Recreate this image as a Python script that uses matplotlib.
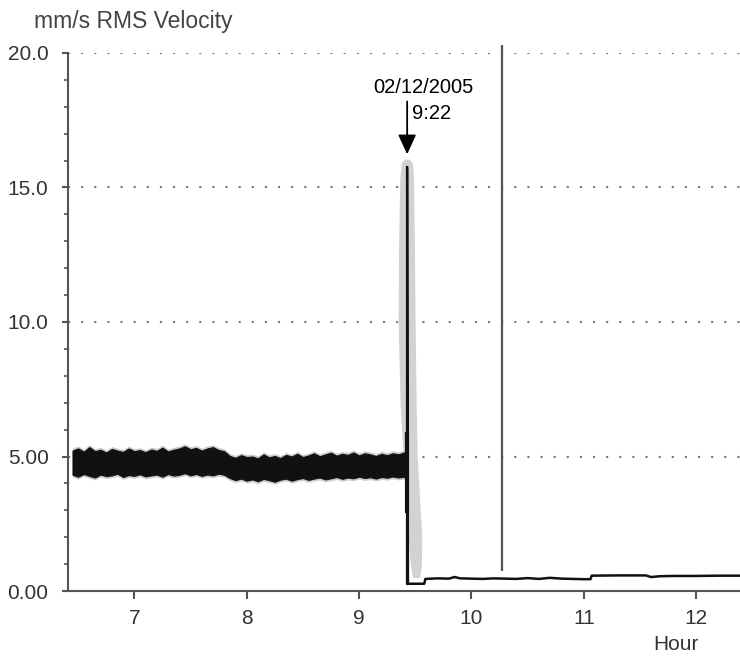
import numpy as np
import matplotlib.pyplot as plt

# vibration trend before / after the event
hours = [6.45, 6.50, 6.55, 6.60, 6.65, 6.70, 6.75, 6.80, 6.85, 6.90, 6.95, 7.00, 7.05, 7.10,
         7.15, 7.20, 7.25, 7.30, 7.35, 7.40, 7.45, 7.50, 7.55, 7.60, 7.65, 7.70, 7.75, 7.80,
         7.85, 7.90, 7.95, 8.00, 8.05, 8.10, 8.15, 8.20, 8.25, 8.30, 8.35, 8.40, 8.45, 8.50,
         8.55, 8.60, 8.65, 8.70, 8.75, 8.80, 8.85, 8.90, 8.95, 9.00, 9.05, 9.10, 9.15, 9.20,
         9.25, 9.30, 9.35, 9.40, 9.42]
upper = [5.22, 5.30, 5.18, 5.35, 5.20, 5.25, 5.15, 5.28, 5.22, 5.17, 5.30, 5.20, 5.24, 5.16,
         5.26, 5.21, 5.33, 5.19, 5.25, 5.30, 5.38, 5.27, 5.32, 5.22, 5.30, 5.35, 5.24, 5.20,
         5.02, 4.95, 5.05, 4.98, 5.00, 4.93, 5.08, 4.97, 5.02, 4.94, 5.06, 5.00, 5.10, 4.98,
         5.04, 5.12, 5.01, 5.08, 5.14, 5.03, 5.10, 5.06, 5.15, 5.04, 5.12, 5.08, 5.02, 5.10,
         5.05, 5.12, 5.08, 5.15, 5.20]
lower = [4.32, 4.25, 4.35, 4.28, 4.22, 4.33, 4.27, 4.30, 4.36, 4.24, 4.31, 4.28, 4.34, 4.26,
         4.30, 4.33, 4.25, 4.35, 4.29, 4.32, 4.38, 4.30, 4.35, 4.28, 4.33, 4.30, 4.36, 4.32,
         4.20, 4.12, 4.18, 4.10, 4.15, 4.08, 4.17, 4.12, 4.06, 4.14, 4.18, 4.10, 4.16, 4.20,
         4.13, 4.18, 4.22, 4.15, 4.19, 4.24, 4.17, 4.22, 4.19, 4.25, 4.20, 4.23, 4.18, 4.24,
         4.21, 4.26, 4.22, 4.25, 4.20]

spike_hour = 9.428
spike_top = 15.75
spike_noise = [2.9, 5.9]

# grey trace around the spike
halo_levels = [16.05, 15.9, 15.3, 13.0, 10.0, 7.0, 5.0, 3.0, 2.0, 1.0, 0.5]
halo_left = [9.40, 9.375, 9.362, 9.352, 9.348, 9.365, 9.392, 9.420, 9.437, 9.455, 9.475]
halo_right = [9.45, 9.475, 9.485, 9.492, 9.499, 9.508, 9.517, 9.545, 9.558, 9.555, 9.540]

low_hours = [9.436, 9.58, 9.59, 9.70, 9.80, 9.85, 9.90, 10.0, 10.1, 10.2, 10.3, 10.4, 10.5,
             10.6, 10.7, 10.8, 10.9, 11.0, 11.06, 11.07, 11.3, 11.55, 11.6, 11.68, 11.8,
             12.0, 12.2, 12.39]
low_vals = [0.27, 0.27, 0.45, 0.47, 0.46, 0.52, 0.47, 0.46, 0.45, 0.47, 0.46, 0.45, 0.48,
            0.45, 0.49, 0.46, 0.45, 0.44, 0.44, 0.57, 0.58, 0.58, 0.52, 0.55, 0.56,
            0.56, 0.57, 0.57]

marker_hour = 10.27
marker_range = [0.75, 20.3]

yticks = [0, 5, 10, 15, 20]
ylabels = ['0.00', '5.00', '10.0', '15.0', '20.0']
xticks = [7, 8, 9, 10, 11, 12]

plt.rcParams['font.family'] = ['Liberation Sans', 'DejaVu Sans']

fig = plt.figure(figsize=(7.4, 6.58), dpi=100)
ax = fig.add_axes([0.0919, 0.1018, 0.9081, 0.8177])

# grid
for v in yticks[1:]:
    ax.axhline(v, color='#777777', lw=1.5, ls=(0, (1, 5.3)), zorder=1)

up = np.array(upper)
lo = np.array(lower)
ax.fill_between(hours, up + 0.09, lo - 0.09, color='#cccccc', lw=0, zorder=2)
ax.fill_betweenx(halo_levels, halo_left, halo_right, color='#d2d2d2', lw=0, zorder=2)
ax.fill_between(hours, up, lo, color='#111111', edgecolor='#111111', lw=0.8, zorder=3)

ax.plot([hours[-1], spike_hour, spike_hour, low_hours[0]],
        [4.7, 4.7, spike_top, low_vals[0]], color='#111111', lw=1.6, zorder=4)
ax.vlines(spike_hour, spike_noise[0], spike_noise[1], color='#111111', lw=3, zorder=4)
ax.plot([spike_hour, spike_hour, low_hours[0]], [spike_top, low_vals[0], low_vals[0]],
        color='#111111', lw=1.6, zorder=4)
ax.plot(low_hours, low_vals, color='#111111', lw=1.8, zorder=4)
ax.vlines(marker_hour, marker_range[0], marker_range[1], color='#555555', lw=1.6,
          zorder=4, clip_on=False)

# annotation
ax.annotate('', xy=(spike_hour, 16.13), xytext=(spike_hour, 18.3),
            arrowprops=dict(arrowstyle='-|>,head_length=1.2,head_width=0.55',
                            color='black', lw=1.3, mutation_scale=10), zorder=6)
ax.text(9.575, 18.72, '02/12/2005', ha='center', va='center', fontsize=14.5,
        color='black')
ax.text(9.645, 17.75, '9:22', ha='center', va='center', fontsize=14.5, color='black')

ax.set_xlim(6.41, 12.39)
ax.set_ylim(0, 20)
ax.set_xticks(xticks)
ax.set_yticks(yticks)
ax.set_yticklabels(ylabels)
ax.set_yticks(np.arange(0, 21, 1), minor=True)

for s in ['top', 'right']:
    ax.spines[s].set_visible(False)
for s in ['left', 'bottom']:
    ax.spines[s].set_color('#555555')
    ax.spines[s].set_linewidth(1.5)

ax.tick_params(axis='y', which='major', length=4, width=1.5, color='#555555',
               labelsize=15, labelcolor='#333333', pad=10)
ax.tick_params(axis='y', which='minor', length=3, width=1.2, color='#555555')
ax.tick_params(axis='x', which='major', length=6, width=1.5, color='#555555',
               labelsize=15, labelcolor='#333333', pad=7)

fig.text(0.180, 0.968, 'mm/s RMS Velocity', ha='center', va='center', fontsize=16.5,
         color='#444444')
fig.text(0.913, 0.020, 'Hour', ha='center', va='center', fontsize=15, color='#333333')

plt.savefig('out.png', dpi=100)
